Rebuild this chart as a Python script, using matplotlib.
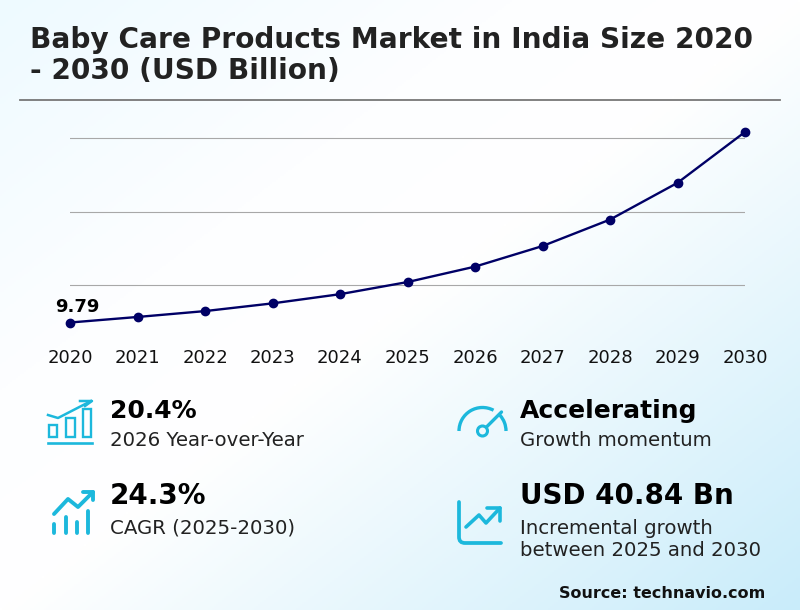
import matplotlib
matplotlib.use('Agg')
import matplotlib.pyplot as plt
from matplotlib.patches import Arc, Circle, Rectangle, PathPatch
from matplotlib.path import Path
import numpy as np

years = [2020, 2021, 2022, 2023, 2024, 2025, 2026, 2027, 2028, 2029, 2030]
market_size = [9.79, 11.3, 12.9, 15.0, 17.5, 20.8, 25.0, 30.6, 37.8, 47.8, 61.64]
grid_values = [20, 40, 60]

W, H = 800, 610
NAVY = '#000066'
CYAN = '#1cb8dc'

fig = plt.figure(figsize=(8, 6.1), dpi=100)

# page layer in pixel coordinates
page = fig.add_axes([0, 0, 1, 1])
page.set_xlim(0, W)
page.set_ylim(H, 0)
page.axis('off')

# diagonal background gradient
xx, yy = np.meshgrid(np.linspace(0, 1, 400), np.linspace(0, 1, 305))
t = (xx + yy) / 2
stops = [0, 0.32, 0.5, 1]
c0 = (0xee, 0xfa, 0xff)
c1 = (0xfd, 0xfe, 0xff)
c2 = (0xff, 0xff, 0xff)
c3 = (0xc9, 0xec, 0xfa)
rgb = np.dstack([np.interp(t, stops, [c0[i], c1[i], c2[i], c3[i]]) / 255 for i in range(3)])
page.imshow(rgb, extent=[0, W, H, 0], aspect='auto', zorder=0)

# title
page.text(30, 40, 'Baby Care Products Market in India Size 2020', fontsize=20.15,
          fontweight='bold', color='#222222', va='center')
page.text(30, 71, '- 2030 (USD Billion)', fontsize=20.15,
          fontweight='bold', color='#222222', va='center')
page.plot([20, 780], [100, 100], color='#777777', lw=1.3)

# chart
y0 = 358.5
px_per_unit = 3.675
top = 110
ax = fig.add_axes([70 / W, 1 - y0 / H, 675 / W, (y0 - top) / H])
ax.patch.set_alpha(0)
ax.set_xlim(2020, 2030)
ax.set_ylim(0, (y0 - top) / px_per_unit)
for s in ax.spines.values():
    s.set_visible(False)
ax.set_yticks(grid_values)
ax.set_yticklabels([])
ax.tick_params(axis='y', length=0)
ax.grid(axis='y', color='#a8a8a8', lw=0.8)
ax.set_axisbelow(True)
ax.set_xticks(years)
ax.set_xticklabels([str(y) for y in years], fontsize=13, color='#111111')
ax.tick_params(axis='x', length=0, pad=-6.5)
ax.plot(years, market_size, color=NAVY, lw=1.7, marker='o', ms=6, clip_on=False, zorder=5)
ax.annotate(f'{market_size[0]:.2f}', (years[0], market_size[0]), xytext=(5.5, 5),
            textcoords='offset points', ha='center', va='bottom', fontsize=13,
            fontweight='bold', color='black')

# kpi text
page.text(110, 411, '20.4%', fontsize=18, fontweight='bold', color='black', va='center')
page.text(110, 440, '2026 Year-over-Year', fontsize=14.25, color='#222222', va='center')
page.text(110, 496, '24.3%', fontsize=20, fontweight='bold', color='black', va='center')
page.text(110, 528, 'CAGR (2025-2030)', fontsize=14.25, color='#222222', va='center')
page.text(520, 411, 'Accelerating', fontsize=18, fontweight='bold', color='black', va='center')
page.text(520, 440, 'Growth momentum', fontsize=14.25, color='#222222', va='center')
page.text(520, 496, 'USD 40.84 Bn', fontsize=20, fontweight='bold', color='black', va='center')
page.text(520, 528, 'Incremental growth', fontsize=14.25, color='#222222', va='center')
page.text(520, 550, 'between 2025 and 2030', fontsize=14.25, color='#222222', va='center')
page.text(765, 594, 'Source: technavio.com', fontsize=11.5, fontweight='bold',
          color='#111111', ha='right', va='center')

# icon: bars with arrow
for x, w, top_y in [(49, 8, 425), (66, 9, 418), (83, 8, 409)]:
    page.add_patch(Rectangle((x, top_y), w, 437 - top_y, fill=False, ec=CYAN, lw=1.7))
page.plot([48, 92], [442.5, 442.5], color=CYAN, lw=1.9)
page.plot([48, 58, 91], [415, 418, 401], color=CYAN, lw=1.8)
page.plot([80, 92, 85], [401, 401, 406], color=CYAN, lw=1.8)

# icon: trend with bars
page.plot([54, 68, 78, 93], [514, 499, 507, 492], color=CYAN, lw=2.8, solid_capstyle='round',
          solid_joinstyle='round')
page.plot([83, 93, 93], [492, 492, 500], color=CYAN, lw=2.8, solid_capstyle='round',
          solid_joinstyle='round')
for x, top_y in [(54, 524), (66, 517), (77, 522), (88, 511)]:
    page.plot([x, x], [top_y, 533], color=CYAN, lw=2.8, solid_capstyle='round', snap=False)

# icon: gauge
page.add_patch(Arc((482.5, 431), 47, 47, theta1=180, theta2=298, color=CYAN, lw=2.4))
page.add_patch(Arc((482.5, 431), 47, 47, theta1=318, theta2=360, color=CYAN, lw=2.4))
page.add_patch(Circle((482.5, 431), 5, fill=False, ec=CYAN, lw=2.2))
page.plot([486.5, 501.5], [427, 412], color=CYAN, lw=2.4, solid_capstyle='round')

# icon: line chart
axis_path = Path([(459, 502), (459, 537), (459, 543), (465, 543), (501, 543)],
                 [Path.MOVETO, Path.LINETO, Path.CURVE3, Path.CURVE3, Path.LINETO])
page.add_patch(PathPatch(axis_path, fill=False, ec=CYAN, lw=2.7, capstyle='round'))
page.plot([466, 479, 486, 500], [527, 515, 523, 508], color=CYAN, lw=2.6, solid_capstyle='round',
          solid_joinstyle='round')
page.plot([487, 500, 500], [508, 508, 521], color=CYAN, lw=2.6, solid_capstyle='round',
          solid_joinstyle='round')

fig.savefig('out.png', dpi=100)
